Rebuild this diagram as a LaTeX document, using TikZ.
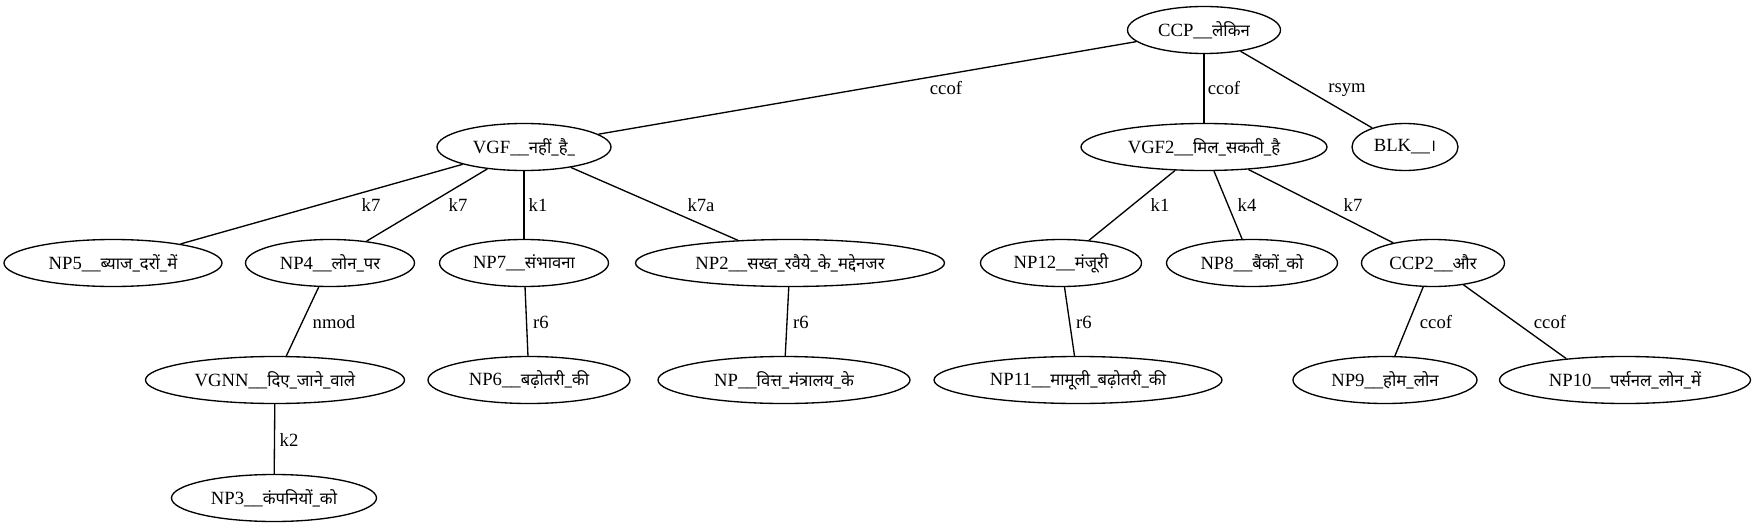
\documentclass[tikz,border=0pt]{standalone}
\usepackage{fontspec}
\setmainfont{Liberation Serif}
\newfontfamily\devfont[Script=Devanagari]{Noto Sans}
\usetikzlibrary{shapes.geometric}
\newcommand\hin[1]{{\devfont\fontsize{12.5}{14}\selectfont #1}}
\tikzset{
  nd/.style={ellipse, draw, line width=1pt, inner sep=0pt, minimum height=35.25pt, font=\fontsize{14}{16}\selectfont},
  ew/.style={minimum width=#1*0.75pt},
  lbl/.style={font=\fontsize{14}{16}\selectfont, inner sep=0pt},
  edge/.style={line width=1pt}
}
\begin{document}
\begin{tikzpicture}[x=0.75pt, y=-0.75pt]
\useasboundingbox (0,0) rectangle (1756,528);
% row 0
\node[nd, ew=153] (ccp) at (1204,30) {CCP\_\_\hin{लेकिन}};
% row 1
\node[nd, ew=174] (vgf) at (524,147) {VGF\_\_\hin{नहीं\_है\_}};
\node[nd, ew=246] (vgf2) at (1204,147) {VGF2\_\_\hin{मिल\_सकती\_है}};
\node[nd, ew=106] (blk) at (1405,147) {BLK\_\_\hin{।}};
% row 2
\node[nd, ew=218] (np5) at (113,263) {NP5\_\_\hin{ब्याज\_दरों\_में}};
\node[nd, ew=169] (np4) at (330,263) {NP4\_\_\hin{लोन\_पर}};
\node[nd, ew=169] (np7) at (524,263) {NP7\_\_\hin{संभावना}};
\node[nd, ew=309] (np2) at (790,263) {NP2\_\_\hin{सख्त\_रवैये\_के\_मद्देनजर}};
\node[nd, ew=161] (np12) at (1061,263) {NP12\_\_\hin{मंजूरी}};
\node[nd, ew=171] (np8) at (1252,263) {NP8\_\_\hin{बैंकों\_को}};
\node[nd, ew=143] (ccp2) at (1433,263) {CCP2\_\_\hin{और}};
% row 3
\node[nd, ew=259] (vgnn) at (275,380) {VGNN\_\_\hin{दिए\_जाने\_वाले}};
\node[nd, ew=202] (np6) at (529,380) {NP6\_\_\hin{बढ़ोतरी\_की}};
\node[nd, ew=252] (np) at (784,380) {NP\_\_\hin{वित्त\_मंत्रालय\_के}};
\node[nd, ew=288] (np11) at (1078,380) {NP11\_\_\hin{मामूली\_बढ़ोतरी\_की}};
\node[nd, ew=184] (np9) at (1385,380) {NP9\_\_\hin{होम\_लोन}};
\node[nd, ew=251] (np10) at (1625,380) {NP10\_\_\hin{पर्सनल\_लोन\_में}};
% row 4
\node[nd, ew=205] (np3) at (274,498) {NP3\_\_\hin{कंपनियों\_को}};
% edges
\draw[edge] (ccp) -- (vgf) node[lbl] at (946,88) {ccof};
\draw[edge] (ccp) -- (vgf2) node[lbl] at (1224,88) {ccof};
\draw[edge] (ccp) -- (blk) node[lbl] at (1347,90) {rsym};
\draw[edge] (vgf) -- (np5) node[lbl] at (371,205) {k7};
\draw[edge] (vgf) -- (np4) node[lbl] at (458,205) {k7};
\draw[edge] (vgf) -- (np7) node[lbl] at (538,205) {k1};
\draw[edge] (vgf) -- (np2) node[lbl] at (701,205) {k7a};
\draw[edge] (vgf2) -- (np12) node[lbl] at (1160,205) {k1};
\draw[edge] (vgf2) -- (np8) node[lbl] at (1247,205) {k4};
\draw[edge] (vgf2) -- (ccp2) node[lbl] at (1353,205) {k7};
\draw[edge] (np4) -- (vgnn) node[lbl] at (334,322) {nmod};
\draw[edge] (np7) -- (np6) node[lbl] at (541,322) {r6};
\draw[edge] (np2) -- (np) node[lbl] at (801,322) {r6};
\draw[edge] (np12) -- (np11) node[lbl] at (1084,322) {r6};
\draw[edge] (ccp2) -- (np9) node[lbl] at (1436,322) {ccof};
\draw[edge] (ccp2) -- (np10.160) node[lbl] at (1550,322) {ccof};
\draw[edge] (vgnn) -- (np3) node[lbl] at (289,440) {k2};
\end{tikzpicture}
\end{document}
